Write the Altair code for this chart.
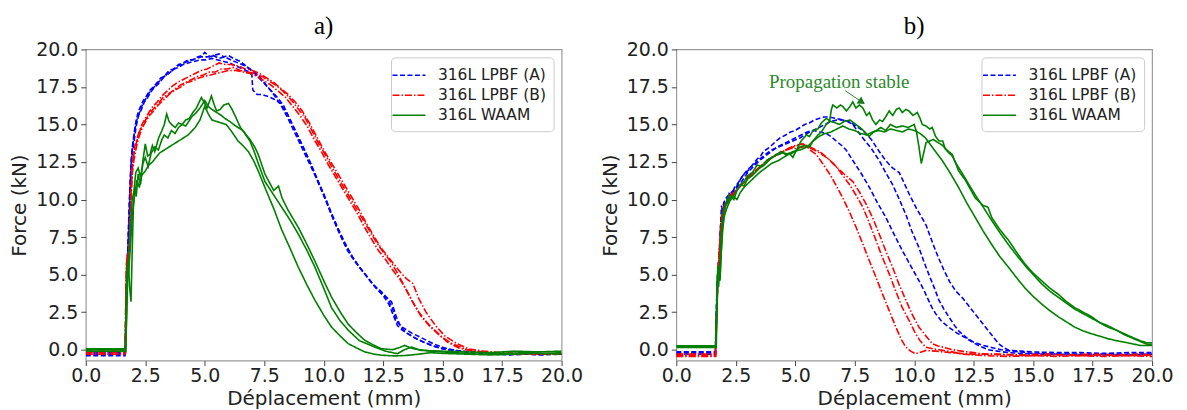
import altair as alt
import pandas as pd

# ---------------- shared axes / legend content ----------------
X_TICKS = [0.0, 2.5, 5.0, 7.5, 10.0, 12.5, 15.0, 17.5, 20.0]
Y_TICKS = [0.0, 2.5, 5.0, 7.5, 10.0, 12.5, 15.0, 17.5, 20.0]
SERIES = ["316L LPBF (A)", "316L LPBF (B)", "316L WAAM"]
X_TITLE = "Déplacement (mm)"
Y_TITLE = "Force (kN)"
PANEL_TITLES = ["a)", "b)"]
ANNOTATION = "Propagation stable"

# ---------------- panel a) : (x mm, force kN) ----------------
A_LPBF_A1 = [(0.0,-0.30),(1.66,-0.30),(1.68,2.0),(1.72,5.5),(1.76,6.2),(1.80,8.5),(1.86,11.0),(1.92,12.9),(1.98,13.8),(2.05,14.6),(2.12,15.3),(2.20,15.8),(2.30,16.2),(2.42,16.6),(2.55,16.9),(2.70,17.3),(2.85,17.5),(3.00,17.8),(3.15,18.1),(3.30,18.2),(3.50,18.6),(3.70,18.7),(3.90,19.0),(4.10,19.1),(4.30,19.3),(4.50,19.3),(4.70,19.5),(4.90,19.6),(5.00,19.8),(5.20,19.5),(5.40,19.6),(5.60,19.7),(5.80,19.5),(6.00,19.6),(6.20,19.4),(6.50,19.2),(6.80,18.8),(7.10,18.4),(7.40,17.9),(7.70,17.4),(8.00,16.9),(8.30,16.3),(8.60,15.3),(8.90,14.3),(9.20,13.3),(9.50,12.2),(9.80,11.0),(10.10,9.9),(10.40,8.7),(10.70,7.6),(11.00,6.6),(11.30,5.9),(11.60,5.3),(11.90,4.7),(12.20,4.1),(12.50,3.6),(12.75,3.0),(12.95,2.2),(13.10,1.6),(13.30,1.3),(13.60,1.0),(14.00,0.65),(14.50,0.3),(15.00,0.05),(15.50,-0.05),(16.00,-0.15),(16.50,-0.2),(17.00,-0.25),(17.50,-0.3),(18.00,-0.28),(18.50,-0.3),(19.00,-0.32),(19.50,-0.3),(20.0,-0.3)]
A_LPBF_A2 = [(0.0,-0.20),(1.67,-0.20),(1.70,3.5),(1.74,6.0),(1.78,7.0),(1.84,9.5),(1.90,12.2),(1.96,13.5),(2.03,14.3),(2.10,15.0),(2.18,15.5),(2.28,15.9),(2.40,16.4),(2.52,16.7),(2.66,17.1),(2.80,17.4),(2.95,17.6),(3.10,17.9),(3.30,18.2),(3.50,18.4),(3.70,18.7),(3.90,18.8),(4.10,19.0),(4.30,19.1),(4.55,19.2),(4.80,19.3),(5.05,19.3),(5.30,19.4),(5.55,19.3),(5.80,19.2),(6.05,19.1),(6.30,18.9),(6.60,18.7),(6.85,18.5),(6.98,18.3),(7.02,17.3),(7.20,17.0),(7.40,17.0),(7.60,16.9),(7.90,16.7),(8.20,16.4),(8.50,15.6),(8.80,14.6),(9.10,13.6),(9.40,12.6),(9.70,11.5),(10.00,10.3),(10.30,9.1),(10.60,8.0),(10.90,7.0),(11.20,6.2),(11.50,5.5),(11.80,4.9),(12.10,4.3),(12.40,3.8),(12.60,3.5),(12.85,3.2),(13.05,2.2),(13.25,1.5),(13.50,1.1),(13.80,0.8),(14.20,0.5),(14.70,0.2),(15.20,0.0),(15.80,-0.1),(16.50,-0.2),(17.20,-0.25),(18.00,-0.3),(18.80,-0.25),(19.40,-0.3),(20.0,-0.28)]
A_LPBF_A3 = [(0.0,-0.40),(1.65,-0.40),(1.69,1.5),(1.73,4.8),(1.79,7.5),(1.85,10.5),(1.91,12.5),(1.97,13.2),(2.04,14.0),(2.12,14.9),(2.22,15.6),(2.34,16.0),(2.46,16.5),(2.60,16.8),(2.75,17.2),(2.90,17.5),(3.05,17.7),(3.25,18.1),(3.45,18.4),(3.65,18.6),(3.85,18.9),(4.05,19.0),(4.25,19.2),(4.45,19.3),(4.65,19.4),(4.85,19.5),(5.10,19.5),(5.35,19.6),(5.60,19.4),(5.85,19.5),(6.10,19.3),(6.40,19.1),(6.70,18.9),(7.00,18.6),(7.30,18.2),(7.60,17.6),(7.90,17.0),(8.20,16.3),(8.50,15.4),(8.80,14.4),(9.10,13.4),(9.40,12.4),(9.70,11.4),(10.00,10.4),(10.30,9.2),(10.60,8.1),(10.90,7.1),(11.20,6.2),(11.50,5.5),(11.80,4.9),(12.10,4.3),(12.40,3.9),(12.70,3.4),(12.90,2.7),(13.05,1.9),(13.30,1.5),(13.70,1.1),(14.10,0.8),(14.60,0.4),(15.10,0.1),(15.70,-0.1),(16.40,-0.2),(17.10,-0.3),(17.80,-0.35),(18.50,-0.3),(19.20,-0.35),(20.0,-0.3)]

A_LPBF_B1 = [(0.0,-0.10),(1.64,-0.10),(1.67,2.5),(1.70,5.5),(1.74,6.3),(1.78,6.0),(1.83,6.8),(1.88,9.5),(1.93,11.5),(1.99,12.8),(2.06,13.5),(2.14,14.0),(2.24,14.5),(2.36,15.0),(2.50,15.4),(2.65,15.8),(2.82,16.2),(3.00,16.5),(3.20,16.9),(3.40,17.2),(3.60,17.5),(3.85,17.8),(4.10,18.0),(4.35,18.2),(4.60,18.4),(4.85,18.6),(5.10,18.7),(5.35,18.9),(5.60,19.1),(5.85,19.0),(6.10,19.0),(6.40,18.9),(6.70,18.7),(7.00,18.6),(7.30,18.4),(7.60,18.1),(7.90,17.8),(8.20,17.4),(8.50,17.0),(8.80,16.5),(9.10,15.9),(9.40,15.1),(9.70,14.2),(10.00,13.3),(10.30,12.5),(10.60,11.7),(10.90,10.9),(11.20,10.1),(11.50,9.3),(11.80,8.4),(12.10,7.6),(12.40,6.8),(12.70,6.2),(13.00,5.6),(13.25,5.1),(13.50,4.7),(13.75,4.4),(14.00,3.4),(14.30,2.5),(14.70,1.6),(15.10,0.9),(15.60,0.4),(16.10,0.05),(16.70,-0.1),(17.40,-0.2),(18.10,-0.25),(18.80,-0.3),(19.50,-0.25),(20.0,-0.3)]
A_LPBF_B2 = [(0.0,-0.20),(1.66,-0.20),(1.69,3.0),(1.72,5.8),(1.76,6.4),(1.81,5.9),(1.86,8.0),(1.91,10.8),(1.97,12.3),(2.03,13.1),(2.10,13.6),(2.18,14.1),(2.28,14.6),(2.40,15.0),(2.55,15.4),(2.70,15.8),(2.88,16.1),(3.05,16.4),(3.25,16.8),(3.45,17.0),(3.70,17.3),(3.95,17.6),(4.20,17.8),(4.45,18.0),(4.70,18.2),(4.95,18.3),(5.20,18.5),(5.45,18.5),(5.70,18.7),(5.95,18.7),(6.20,18.8),(6.50,18.6),(6.80,18.5),(7.10,18.4),(7.40,18.2),(7.70,17.9),(8.00,17.6),(8.30,17.2),(8.60,16.7),(8.90,16.1),(9.20,15.5),(9.50,14.6),(9.80,13.7),(10.10,12.9),(10.40,12.0),(10.70,11.2),(11.00,10.4),(11.30,9.6),(11.60,8.8),(11.90,8.0),(12.20,7.2),(12.50,6.5),(12.80,5.9),(13.10,5.1),(13.40,4.2),(13.70,3.3),(14.00,2.5),(14.40,1.7),(14.80,1.1),(15.20,0.5),(15.70,0.1),(16.30,-0.1),(17.00,-0.2),(17.80,-0.3),(18.60,-0.25),(19.30,-0.3),(20.0,-0.3)]
A_LPBF_B3 = [(0.0,-0.30),(1.65,-0.30),(1.68,2.0),(1.71,4.5),(1.75,6.2),(1.80,6.0),(1.85,7.5),(1.90,10.0),(1.96,11.8),(2.02,12.6),(2.09,13.2),(2.17,13.8),(2.26,14.3),(2.38,14.8),(2.52,15.2),(2.68,15.6),(2.85,15.9),(3.05,16.3),(3.25,16.6),(3.50,17.0),(3.75,17.3),(4.00,17.5),(4.25,17.8),(4.50,17.9),(4.75,18.1),(5.00,18.2),(5.25,18.3),(5.50,18.4),(5.75,18.5),(6.00,18.6),(6.30,18.6),(6.60,18.5),(6.90,18.4),(7.20,18.2),(7.50,17.9),(7.80,17.6),(8.10,17.2),(8.40,16.8),(8.70,16.2),(9.00,15.6),(9.30,14.9),(9.60,14.0),(9.90,13.2),(10.20,12.3),(10.50,11.5),(10.80,10.7),(11.10,9.9),(11.40,9.1),(11.70,8.2),(12.00,7.4),(12.30,6.6),(12.60,6.0),(12.90,5.3),(13.20,4.7),(13.50,3.9),(13.80,3.0),(14.10,2.2),(14.50,1.5),(14.90,0.9),(15.40,0.4),(16.00,0.0),(16.60,-0.15),(17.30,-0.25),(18.00,-0.3),(18.80,-0.25),(19.50,-0.3),(20.0,-0.3)]

A_WAAM_1 = [(0.0,0.0),(1.66,0.0),(1.70,3.0),(1.74,5.5),(1.79,6.0),(1.84,4.2),(1.90,3.2),(1.95,6.5),(2.00,9.5),(2.06,10.8),(2.12,10.2),(2.20,11.7),(2.30,11.0),(2.40,12.6),(2.50,13.7),(2.60,12.9),(2.70,13.0),(2.80,13.6),(2.90,13.2),(3.06,14.1),(3.20,14.6),(3.30,15.0),(3.40,15.7),(3.50,15.2),(3.60,15.0),(3.76,14.8),(3.90,15.1),(4.05,15.0),(4.20,15.3),(4.35,15.4),(4.50,15.8),(4.65,16.1),(4.86,16.8),(5.00,16.4),(5.10,16.1),(5.28,16.9),(5.40,16.3),(5.50,15.9),(5.65,16.0),(5.80,16.3),(6.00,16.4),(6.15,16.0),(6.30,15.5),(6.50,14.8),(6.70,14.4),(6.90,14.0),(7.10,13.5),(7.25,13.0),(7.53,11.7),(7.90,10.6),(8.10,10.9),(8.25,10.1),(8.50,9.3),(8.93,8.15),(9.30,7.0),(9.63,5.9),(10.00,4.6),(10.33,3.5),(10.70,2.5),(11.03,1.7),(11.40,1.1),(11.73,0.62),(12.10,0.3),(12.43,0.06),(12.90,0.0),(13.20,0.15),(13.40,0.28),(13.70,0.1),(14.10,-0.05),(15.00,-0.1),(16.00,-0.15),(17.00,-0.2),(18.00,-0.1),(19.00,-0.15),(20.0,-0.1)]
A_WAAM_2 = [(0.0,-0.1),(1.68,-0.1),(1.72,2.5),(1.76,5.0),(1.81,5.8),(1.85,7.0),(1.90,8.8),(1.95,10.0),(2.02,10.5),(2.10,11.8),(2.20,12.1),(2.30,11.5),(2.40,12.4),(2.50,12.8),(2.62,12.2),(2.75,13.1),(2.90,13.5),(3.05,13.3),(3.20,14.0),(3.30,14.3),(3.45,14.1),(3.60,14.6),(3.75,14.4),(3.90,14.8),(4.05,15.0),(4.20,14.9),(4.45,15.5),(4.65,15.8),(4.80,16.1),(5.00,16.6),(5.15,16.2),(5.30,16.0),(5.50,15.8),(5.70,15.6),(5.85,15.4),(6.05,15.2),(6.30,14.9),(6.60,14.6),(6.90,13.9),(7.10,13.1),(7.25,12.4),(7.53,11.2),(7.90,10.3),(8.23,9.5),(8.60,8.6),(8.93,7.7),(9.30,6.6),(9.63,5.5),(10.00,4.1),(10.33,2.8),(10.70,1.9),(11.03,1.3),(11.50,0.6),(12.15,0.17),(12.60,-0.1),(13.10,-0.27),(13.40,0.0),(13.70,0.17),(14.00,0.0),(14.50,-0.1),(15.50,-0.2),(16.50,-0.3),(17.50,-0.25),(18.50,-0.2),(19.30,-0.25),(20.0,-0.2)]
A_WAAM_3 = [(0.0,0.05),(1.67,0.05),(1.71,2.0),(1.75,4.5),(1.80,5.2),(1.86,6.5),(1.92,8.0),(1.97,9.2),(2.05,10.3),(2.15,11.3),(2.25,10.8),(2.35,11.6),(2.50,11.9),(2.65,12.3),(2.80,12.5),(2.95,12.8),(3.10,13.1),(3.20,13.2),(3.40,13.4),(3.60,13.6),(3.90,13.9),(4.10,14.1),(4.30,14.3),(4.60,14.8),(4.80,15.3),(5.00,16.2),(5.15,15.7),(5.30,15.3),(5.50,15.2),(5.70,15.1),(5.90,15.0),(6.10,14.6),(6.40,13.9),(6.60,13.6),(6.83,13.2),(7.05,12.6),(7.25,11.9),(7.53,10.8),(7.90,9.4),(8.23,8.0),(8.60,6.7),(8.93,5.5),(9.30,4.3),(9.63,3.3),(10.00,2.3),(10.33,1.5),(10.70,0.9),(11.03,0.4),(11.40,0.1),(11.73,-0.15),(12.10,-0.3),(12.43,-0.37),(13.00,-0.42),(13.50,-0.38),(14.00,-0.3),(14.50,-0.2),(15.00,-0.25),(16.00,-0.3),(17.00,-0.35),(18.00,-0.3),(19.00,-0.25),(20.0,-0.3)]

# ---------------- panel b) ----------------
B_LPBF_A1 = [(0.0,-0.15),(1.64,-0.15),(1.68,2.5),(1.72,4.5),(1.76,5.8),(1.80,5.2),(1.85,7.8),(1.90,9.6),(1.96,9.1),(2.03,9.8),(2.13,9.9),(2.22,10.4),(2.32,10.3),(2.45,10.8),(2.55,11.0),(2.68,11.3),(2.80,11.6),(2.95,11.8),(3.10,12.1),(3.25,12.4),(3.40,12.7),(3.55,12.9),(3.66,13.2),(3.85,13.4),(4.00,13.6),(4.20,13.9),(4.36,14.1),(4.60,14.3),(4.80,14.5),(5.00,14.6),(5.20,14.8),(5.40,15.0),(5.60,15.1),(5.80,15.3),(6.00,15.4),(6.20,15.5),(6.40,15.5),(6.70,15.4),(7.00,15.3),(7.28,15.2),(7.55,14.9),(7.84,14.6),(8.20,14.0),(8.53,13.2),(8.80,12.6),(9.09,12.1),(9.37,11.8),(9.55,11.2),(9.78,10.4),(10.10,9.4),(10.50,8.3),(10.80,7.0),(11.00,6.2),(11.25,5.3),(11.50,4.5),(11.75,3.9),(12.00,3.5),(12.25,3.0),(12.50,2.5),(12.75,2.0),(13.00,1.5),(13.30,0.9),(13.55,0.4),(13.80,0.1),(14.00,-0.05),(14.50,-0.1),(15.00,-0.15),(16.00,-0.2),(17.00,-0.2),(18.00,-0.25),(19.00,-0.2),(20.0,-0.2)]
B_LPBF_A2 = [(0.0,-0.30),(1.65,-0.30),(1.69,2.0),(1.74,4.8),(1.79,5.5),(1.84,7.0),(1.90,8.8),(1.97,9.5),(2.05,9.7),(2.15,10.0),(2.30,10.3),(2.50,10.7),(2.75,11.2),(3.00,11.8),(3.25,12.2),(3.50,12.6),(3.75,12.9),(4.00,13.2),(4.25,13.5),(4.50,13.7),(4.75,13.9),(5.00,14.1),(5.25,14.3),(5.50,14.5),(5.75,14.6),(6.00,14.8),(6.25,15.0),(6.50,15.2),(6.75,15.3),(7.00,15.3),(7.20,15.2),(7.42,15.0),(7.60,14.6),(7.84,14.1),(8.20,13.4),(8.53,12.6),(8.80,11.8),(9.09,11.0),(9.35,10.1),(9.65,9.0),(9.90,7.9),(10.20,6.8),(10.40,5.9),(10.62,5.0),(10.85,4.1),(11.04,3.3),(11.25,2.7),(11.45,2.2),(11.70,1.6),(11.90,1.2),(12.20,0.8),(12.50,0.5),(12.85,0.3),(13.20,0.17),(13.50,0.05),(13.80,-0.05),(14.50,-0.15),(15.00,-0.25),(16.00,-0.3),(17.00,-0.3),(18.00,-0.35),(19.00,-0.3),(20.0,-0.3)]
B_LPBF_A3 = [(0.0,-0.20),(1.66,-0.20),(1.70,3.0),(1.75,5.0),(1.80,6.2),(1.86,8.2),(1.92,9.2),(2.00,9.8),(2.10,10.1),(2.25,10.4),(2.40,10.6),(2.55,10.9),(2.75,11.5),(3.00,12.0),(3.25,12.3),(3.50,12.7),(3.75,13.0),(4.00,13.3),(4.30,13.5),(4.60,13.7),(4.90,13.9),(5.20,14.1),(5.50,14.4),(5.75,14.6),(6.03,14.5),(6.30,14.4),(6.50,14.2),(6.72,13.9),(6.95,13.6),(7.14,13.3),(7.42,12.6),(7.75,11.8),(8.12,10.8),(8.45,9.8),(8.81,8.8),(9.15,7.7),(9.50,6.6),(9.85,5.6),(10.20,4.6),(10.40,4.0),(10.60,3.3),(10.75,2.8),(10.90,2.4),(11.15,1.9),(11.45,1.5),(11.80,1.1),(12.15,0.8),(12.50,0.45),(12.80,0.2),(13.10,0.0),(13.50,-0.1),(14.00,-0.2),(15.00,-0.3),(16.00,-0.3),(17.00,-0.35),(18.00,-0.3),(19.00,-0.35),(20.0,-0.3)]

B_LPBF_B1 = [(0.0,-0.30),(1.64,-0.30),(1.68,1.5),(1.72,3.5),(1.76,5.5),(1.81,6.5),(1.86,7.8),(1.92,8.8),(1.98,9.3),(2.06,9.6),(2.15,9.8),(2.30,10.2),(2.50,10.6),(2.70,10.9),(2.96,11.3),(3.20,11.7),(3.40,12.0),(3.60,12.3),(3.80,12.6),(4.05,12.8),(4.30,13.0),(4.60,13.3),(4.90,13.5),(5.10,13.6),(5.33,13.7),(5.50,13.5),(5.70,13.2),(5.89,13.0),(6.15,12.4),(6.45,11.7),(6.70,11.0),(7.00,10.1),(7.30,9.1),(7.56,8.15),(7.85,7.0),(8.12,5.9),(8.40,4.8),(8.67,3.7),(8.95,2.6),(9.23,1.5),(9.45,0.7),(9.65,0.17),(9.85,-0.1),(10.06,-0.27),(10.30,-0.15),(10.50,-0.05),(10.90,-0.1),(11.50,-0.2),(12.50,-0.3),(13.50,-0.3),(14.50,-0.35),(15.50,-0.3),(16.50,-0.35),(17.50,-0.3),(18.50,-0.35),(19.50,-0.3),(20.0,-0.35)]
B_LPBF_B2 = [(0.0,-0.45),(1.65,-0.45),(1.69,2.0),(1.73,4.0),(1.78,5.8),(1.83,7.2),(1.89,8.5),(1.95,9.2),(2.03,9.5),(2.12,9.8),(2.28,10.1),(2.48,10.5),(2.70,10.9),(2.96,11.3),(3.20,11.7),(3.50,12.1),(3.80,12.5),(4.10,12.9),(4.40,13.1),(4.70,13.4),(5.00,13.6),(5.25,13.7),(5.50,13.6),(5.75,13.4),(6.03,13.2),(6.40,12.7),(6.72,12.2),(7.00,11.6),(7.28,11.0),(7.55,10.3),(7.84,9.5),(8.10,8.5),(8.39,7.3),(8.65,6.2),(8.95,5.05),(9.20,4.0),(9.50,2.8),(9.80,1.9),(10.06,1.06),(10.25,0.6),(10.48,0.17),(10.80,0.05),(11.20,-0.05),(11.60,-0.15),(12.00,-0.3),(13.00,-0.4),(14.00,-0.45),(15.00,-0.4),(16.00,-0.45),(17.00,-0.4),(18.00,-0.45),(19.00,-0.4),(20.0,-0.45)]
B_LPBF_B3 = [(0.0,-0.40),(1.66,-0.40),(1.70,2.5),(1.74,4.5),(1.79,5.5),(1.84,7.5),(1.90,8.8),(1.97,9.4),(2.05,9.7),(2.15,10.0),(2.30,10.3),(2.50,10.6),(2.75,11.0),(3.00,11.5),(3.30,11.9),(3.60,12.3),(3.90,12.7),(4.20,13.0),(4.50,13.2),(4.80,13.4),(5.05,13.4),(5.30,13.5),(5.55,13.5),(5.80,13.3),(6.03,13.1),(6.40,12.7),(6.72,12.2),(7.05,11.7),(7.42,11.2),(7.70,10.5),(7.98,9.7),(8.25,8.8),(8.53,7.7),(8.80,6.6),(9.09,5.5),(9.35,4.4),(9.65,3.3),(9.90,2.4),(10.20,1.5),(10.50,0.9),(10.76,0.4),(11.00,0.25),(11.20,0.17),(11.60,0.0),(12.00,-0.1),(12.50,-0.2),(13.00,-0.3),(14.00,-0.35),(15.00,-0.4),(16.00,-0.35),(17.00,-0.4),(18.00,-0.35),(19.00,-0.4),(20.0,-0.35)]

B_WAAM_1 = [(0.0,0.25),(1.66,0.25),(1.69,2.5),(1.72,4.5),(1.75,5.6),(1.80,4.6),(1.85,5.3),(1.90,6.8),(1.95,8.2),(2.00,9.0),(2.08,9.6),(2.20,9.9),(2.30,10.2),(2.42,10.0),(2.55,10.6),(2.70,11.0),(2.85,11.2),(3.00,11.6),(3.20,11.8),(3.40,12.3),(3.60,12.2),(3.80,12.6),(4.00,12.8),(4.25,13.0),(4.50,13.1),(4.75,13.0),(5.00,13.2),(5.20,13.5),(5.40,13.6),(5.60,13.5),(5.75,13.9),(5.95,14.3),(6.10,14.5),(6.30,15.0),(6.44,15.2),(6.52,16.0),(6.58,16.3),(6.75,16.1),(6.90,16.3),(7.00,16.2),(7.15,15.9),(7.30,16.2),(7.42,16.5),(7.55,16.1),(7.70,16.3),(7.84,16.1),(8.00,15.6),(8.12,15.8),(8.25,15.3),(8.39,15.0),(8.55,15.3),(8.67,15.2),(8.80,15.5),(8.95,15.9),(9.10,15.6),(9.25,16.0),(9.37,16.1),(9.50,15.8),(9.65,16.0),(9.78,15.9),(9.95,15.6),(10.13,15.8),(10.25,15.4),(10.34,15.0),(10.50,14.9),(10.65,14.7),(10.76,14.8),(10.90,14.2),(11.05,13.9),(11.20,13.9),(11.30,13.4),(11.60,13.0),(11.87,11.9),(12.15,11.3),(12.57,10.1),(12.90,9.6),(13.10,9.5),(13.26,8.8),(13.60,8.0),(13.96,7.3),(14.30,6.5),(14.66,5.7),(15.00,5.1),(15.35,4.6),(15.70,4.1),(16.05,3.7),(16.40,3.2),(16.75,2.8),(17.10,2.5),(17.45,2.2),(17.80,1.8),(18.14,1.5),(18.50,1.3),(18.83,1.06),(19.20,0.8),(19.50,0.6),(19.80,0.45),(20.0,0.45)]
B_WAAM_2 = [(0.0,0.2),(1.67,0.2),(1.70,3.0),(1.74,5.0),(1.78,4.2),(1.83,5.6),(1.88,7.5),(1.93,8.6),(2.00,9.3),(2.10,9.8),(2.22,10.3),(2.35,10.1),(2.50,10.5),(2.69,11.0),(2.85,10.9),(3.00,11.4),(3.20,11.6),(3.50,12.1),(3.70,12.3),(3.95,12.7),(4.22,13.0),(4.40,13.2),(4.60,13.0),(4.75,13.1),(4.90,12.8),(5.05,13.3),(5.25,13.9),(5.47,14.3),(5.60,14.2),(5.75,14.6),(5.95,14.7),(6.10,15.1),(6.30,15.4),(6.50,15.2),(6.70,15.1),(6.86,15.0),(7.05,15.2),(7.30,15.3),(7.55,15.0),(7.80,14.7),(8.10,14.2),(8.30,14.5),(8.60,14.8),(8.80,14.6),(9.00,15.0),(9.25,14.8),(9.50,14.9),(9.75,14.8),(10.00,15.0),(10.10,14.5),(10.20,13.5),(10.30,12.4),(10.40,13.1),(10.50,13.8),(10.65,13.9),(10.80,14.0),(11.00,13.8),(11.20,13.6),(11.40,13.2),(11.60,12.9),(11.80,12.3),(12.00,11.8),(12.30,11.0),(12.57,10.3),(12.90,9.5),(13.26,8.6),(13.60,7.8),(13.96,7.0),(14.30,6.3),(14.66,5.6),(15.00,5.0),(15.35,4.4),(15.70,3.9),(16.05,3.5),(16.40,3.1),(16.75,2.7),(17.10,2.4),(17.45,2.1),(17.80,1.8),(18.14,1.6),(18.50,1.3),(18.83,1.0),(19.20,0.75),(19.50,0.55),(19.80,0.35),(20.0,0.3)]
B_WAAM_3 = [(0.0,0.15),(1.68,0.15),(1.71,2.5),(1.75,4.8),(1.79,5.4),(1.84,4.6),(1.89,6.5),(1.95,8.0),(2.02,8.9),(2.12,9.4),(2.25,9.9),(2.40,10.2),(2.55,10.0),(2.70,10.5),(2.90,10.9),(3.10,11.2),(3.30,11.5),(3.50,11.8),(3.75,12.1),(4.00,12.4),(4.30,12.6),(4.60,12.9),(4.90,13.2),(5.20,13.3),(5.50,13.5),(5.75,13.9),(6.00,14.2),(6.25,14.4),(6.50,14.5),(6.75,14.7),(7.00,14.9),(7.25,14.7),(7.50,14.6),(7.75,14.4),(8.00,14.3),(8.25,14.5),(8.50,14.6),(8.75,14.5),(9.00,14.7),(9.25,14.6),(9.50,14.5),(9.75,14.7),(10.00,14.6),(10.25,14.4),(10.48,14.1),(10.80,13.4),(11.18,12.6),(11.50,11.8),(11.87,10.8),(12.20,9.8),(12.57,8.8),(12.90,7.9),(13.26,7.0),(13.60,6.2),(13.96,5.5),(14.30,4.8),(14.66,4.1),(15.00,3.55),(15.35,3.05),(15.70,2.6),(16.05,2.2),(16.40,1.85),(16.75,1.5),(17.10,1.25),(17.45,1.06),(17.80,0.9),(18.14,0.73),(18.50,0.6),(18.83,0.5),(19.20,0.38),(19.50,0.28),(20.0,0.28)]

# annotation anchor (data units of panel b)
ANN_TEXT_AT = (6.85, 17.85)
ANN_ARROW_FROM = (7.1, 17.25)
ANN_ARROW_TO = (7.8, 16.5)

# ---------------- styles ----------------
COLORS = ["#0000ff", "#ff0000", "#008000"]
DASHES = [[5, 2.5], [7, 2, 1.5, 2], [1, 0]]
FONT = "DejaVu Sans"
SERIF = "Liberation Serif"
PW, PH = 477, 312
X_DOMAIN = [0, 20]
Y_DOMAIN = [-0.73, 20]


def to_frame(curves):
    rows = []
    for series, run, pts in curves:
        for i, (x, y) in enumerate(pts):
            rows.append({"series": series, "run": run, "order": i, "x": x, "y": y})
    return pd.DataFrame(rows)


def x_enc(field="x"):
    return alt.X(f"{field}:Q", scale=alt.Scale(domain=X_DOMAIN, nice=False, zero=False),
                 axis=alt.Axis(values=X_TICKS, format=".1f", title=X_TITLE))


def y_enc(field="y"):
    return alt.Y(f"{field}:Q", scale=alt.Scale(domain=Y_DOMAIN, nice=False, zero=False),
                 axis=alt.Axis(values=Y_TICKS, format=".1f", title=Y_TITLE))


legend = alt.Legend(
    title=None, orient="top-right", offset=8,
    labelFont=FONT, labelFontSize=15.5, labelColor="#222",
    symbolType="M-1.65,0L1.65,0", symbolSize=400, symbolStrokeWidth=1.5,
    symbolFillColor="transparent",
    fillColor="white", strokeColor="#cccccc", cornerRadius=4,
    padding=7, rowPadding=0, labelOffset=18,
)


def lines_for(curves):
    df = to_frame(curves)
    return alt.Chart(df).mark_line(strokeWidth=1.6, clip=True).encode(
        x=x_enc(), y=y_enc(),
        color=alt.Color("series:N", scale=alt.Scale(domain=SERIES, range=COLORS), legend=legend),
        strokeDash=alt.StrokeDash("series:N", scale=alt.Scale(domain=SERIES, range=DASHES), legend=legend),
        detail="run:N",
        order="order:Q",
    )


curves_a = [
    (SERIES[0], "a1", A_LPBF_A1), (SERIES[0], "a2", A_LPBF_A2), (SERIES[0], "a3", A_LPBF_A3),
    (SERIES[1], "b1", A_LPBF_B1), (SERIES[1], "b2", A_LPBF_B2), (SERIES[1], "b3", A_LPBF_B3),
    (SERIES[2], "w1", A_WAAM_1), (SERIES[2], "w2", A_WAAM_2), (SERIES[2], "w3", A_WAAM_3),
]
curves_b = [
    (SERIES[0], "a1", B_LPBF_A1), (SERIES[0], "a2", B_LPBF_A2), (SERIES[0], "a3", B_LPBF_A3),
    (SERIES[1], "b1", B_LPBF_B1), (SERIES[1], "b2", B_LPBF_B2), (SERIES[1], "b3", B_LPBF_B3),
    (SERIES[2], "w1", B_WAAM_1), (SERIES[2], "w2", B_WAAM_2), (SERIES[2], "w3", B_WAAM_3),
]

title_style = dict(font=SERIF, fontSize=25, fontWeight="normal", color="black", anchor="middle", offset=1)

lines_a = lines_for(curves_a)
lines_b = lines_for(curves_b)

ann_df = pd.DataFrame({"x": [ANN_TEXT_AT[0]], "y": [ANN_TEXT_AT[1]], "t": [ANNOTATION]})
arrow_df = pd.DataFrame({"x": [ANN_ARROW_FROM[0]], "y": [ANN_ARROW_FROM[1]],
                         "x2": [ANN_ARROW_TO[0]], "y2": [ANN_ARROW_TO[1]]})
head_df = pd.DataFrame({"x": [ANN_ARROW_TO[0]], "y": [ANN_ARROW_TO[1]]})

ann_text = alt.Chart(ann_df).mark_text(font=SERIF, fontSize=19, color="#2a8a2a").encode(
    x=x_enc(), y=y_enc(), text="t:N")
ann_rule = alt.Chart(arrow_df).mark_rule(color="#2a8a2a", strokeWidth=1).encode(
    x=x_enc(), y=y_enc(), x2="x2:Q", y2="y2:Q")
ann_head = alt.Chart(head_df).mark_point(shape="triangle-up", filled=True, size=70, angle=124,
                                         color="#1a7a1a", opacity=1).encode(x=x_enc(), y=y_enc())

pa = alt.layer(lines_a).properties(width=PW, height=PH, title=alt.TitleParams(PANEL_TITLES[0], **title_style))
pb = alt.layer(lines_b, ann_rule, ann_head, ann_text).properties(
    width=PW, height=PH, title=alt.TitleParams(PANEL_TITLES[1], **title_style))

chart = (
    alt.hconcat(pa, pb, spacing=16)
    .resolve_legend(color="independent", strokeDash="independent")
    .properties(padding={"left": 1, "top": 5, "right": 5, "bottom": 2})
    .configure_view(stroke="#9a9a9a", strokeWidth=1.2)
    .configure_axis(labelFont=FONT, labelFontSize=19, labelColor="#222", titleFont=FONT,
                    titleFontSize=20, titleColor="#222", titleFontWeight="normal",
                    domain=False, grid=False, tickColor="#444", tickSize=5, labelPadding=3,
                    labelFlush=False, labelOverlap=False)
    .configure_axisX(titlePadding=3, labelPadding=1)
    .configure_axisY(titlePadding=6)
)

chart.save("out.html", embed_options={"renderer": "svg", "actions": False})
